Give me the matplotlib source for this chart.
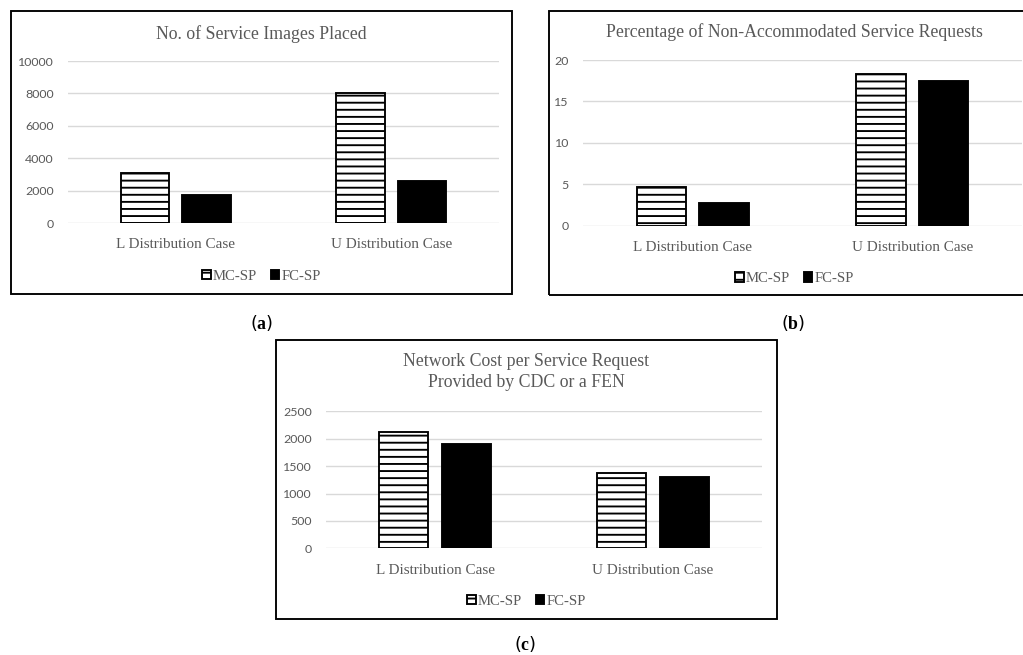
import numpy as np
import matplotlib
matplotlib.use('Agg')
import matplotlib.pyplot as plt
from matplotlib.patches import Rectangle

# data
cases = ['L Distribution Case', 'U Distribution Case']
series = ['MC-SP', 'FC-SP']
images_mc = [3100, 8050]
images_fc = [1750, 2600]
nonacc_mc = [4.7, 18.3]
nonacc_fc = [2.7, 17.5]
cost_mc = [2130, 1370]
cost_fc = [1900, 1300]

plt.rcParams['hatch.linewidth'] = 1.6
plt.rcParams['mathtext.fontset'] = 'custom'
plt.rcParams['mathtext.rm'] = 'Liberation Serif'
plt.rcParams['mathtext.bf'] = 'Liberation Serif:bold'

W, H, DPI = 1023, 655, 85
fig = plt.figure(figsize=(W / DPI, H / DPI), dpi=DPI)
txt = '#595959'
serif = 'Liberation Serif'


def rect(x0, y0, x1, y1):
    # pixel box -> figure fraction
    return [x0 / W, 1 - y1 / H, (x1 - x0) / W, (y1 - y0) / H]


def panel(box, area, title, mc, fc, ymax, step, label, label_xy):
    # frame round the chart
    bx0, by0, bx1, by1 = box
    fig.patches.append(Rectangle((bx0 / W, 1 - by1 / H), (bx1 - bx0) / W, (by1 - by0) / H,
                                 transform=fig.transFigure, fill=False, ec='black', lw=1.6))
    ax = fig.add_axes(rect(*area))
    x = np.arange(len(cases))
    w = 0.225
    ax.bar(x - 0.143, mc, w, color='white', edgecolor='black', hatch='--', lw=1.6, label=series[0])
    ax.bar(x + 0.143, fc, w, color='black', edgecolor='black', lw=1.6, label=series[1])
    ax.set_xlim(-0.5, 1.5)
    ax.set_ylim(0, ymax)
    ax.set_yticks(np.arange(0, ymax + 1, step))
    ax.set_xticks(x, cases)
    for s in ax.spines.values():
        s.set_visible(False)
    ax.grid(axis='y', color='#d9d9d9', lw=1.2)
    ax.set_axisbelow(True)
    ax.tick_params(axis='y', length=0, pad=12, labelsize=10.5, labelcolor=txt)
    ax.tick_params(axis='x', length=0, pad=13, labelsize=12.8, labelcolor=txt)
    for t in ax.get_yticklabels():
        t.set_fontfamily('Lato')
    for t in ax.get_xticklabels():
        t.set_fontfamily(serif)
    cx = (bx0 + min(bx1, 1040)) / 2
    fig.text(cx / W, 1 - title[1] / H, title[0], ha='center', va='center',
             fontsize=15, color=txt, family=serif, linespacing=1.3)
    fig.legend(*ax.get_legend_handles_labels(), loc='center', ncol=2, frameon=False,
               bbox_to_anchor=(cx / W, 1 - (area[3] + 53) / H), prop={'family': serif, 'size': 12.5},
               labelcolor=txt, handlelength=0.6, handleheight=0.6, handletextpad=0.15,
               columnspacing=0.9)
    fig.text(label_xy[0] / W, 1 - label_xy[1] / H, label, ha='center', va='center', fontsize=15)
    return ax


panel((11, 11, 512, 294), (68, 61, 499, 223), ('No. of Service Images Placed', 34),
      images_mc, images_fc, 10000, 2000, r'($\mathbf{a}$)', (262, 323))
panel((549, 11, 1045, 295), (583, 60, 1022, 225.7), ('Percentage of Non-Accommodated Service Requests', 32),
      nonacc_mc, nonacc_fc, 20, 5, r'($\mathbf{b}$)', (793, 323))
panel((276, 340, 777, 619), (326, 411.3, 762, 548.3),
      ('Network Cost per Service Request\nProvided by CDC or a FEN', 372),
      cost_mc, cost_fc, 2500, 500, r'($\mathbf{c}$)', (525, 644))

fig.savefig('out.png', dpi=DPI)
